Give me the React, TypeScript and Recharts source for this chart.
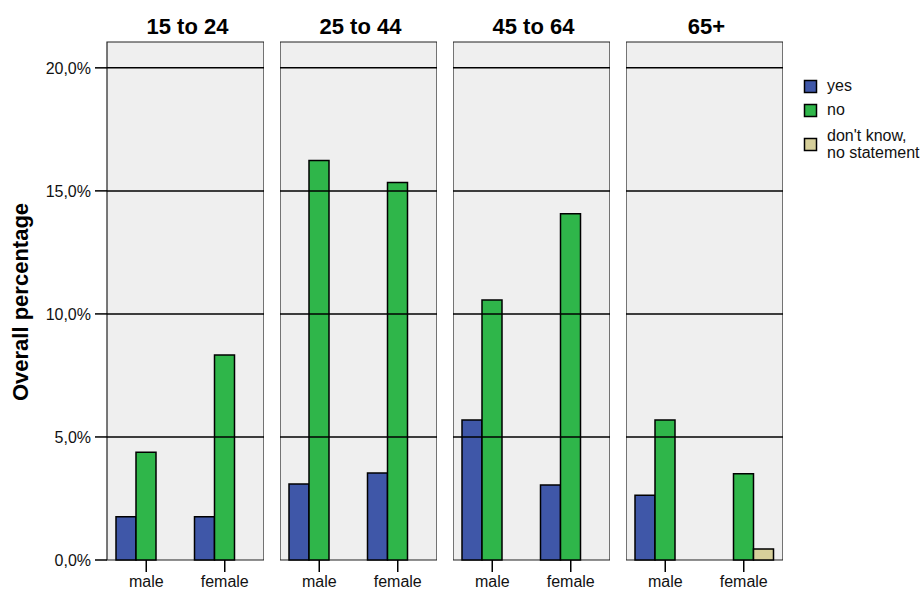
import React from 'react';
import {
  BarChart,
  Bar,
  XAxis,
  YAxis,
  CartesianGrid,
  ReferenceLine,
  ReferenceArea,
} from 'recharts';

const ageGroups = ['15 to 24', '25 to 44', '45 to 64', '65+'];
const genders = ['male', 'female'];
// Ordered: for each age group, male then female (overall percentage)
const yesPct = [1.76, 1.76, 3.09, 3.54, 5.69, 3.05, 2.63, 0];
const noPct = [4.38, 8.33, 16.23, 15.34, 10.57, 14.07, 5.69, 3.5];
const dkPct = [0, 0, 0, 0, 0, 0, 0, 0.45];
const yTicks = [0, 5, 10, 15, 20];
const seriesNames = ['yes', 'no', "don't know,\nno statement"];

const Y_MAX = 21.05;
const COLORS = { yes: '#3f57a8', no: '#2fb64a', dk: '#d6cf9a' };
const FONT = '"Liberation Sans", Arial, Helvetica, sans-serif';
const PANEL_X = [107, 280, 453, 626];
const PANEL_W = 157;

const nz = (v: number) => (v === 0 ? null : v);

function Panel({ idx }: { idx: number }) {
  const data = genders.map((g, j) => ({
    gender: g,
    yes: nz(yesPct[idx * 2 + j]),
    no: nz(noPct[idx * 2 + j]),
    dk: nz(dkPct[idx * 2 + j]),
  }));
  const first = idx === 0;
  const left = first ? 0 : PANEL_X[idx];
  const width = first ? PANEL_X[0] + PANEL_W : PANEL_W;
  return (
    <div style={{ position: 'absolute', left, top: 0 }}>
      <BarChart
        width={width}
        height={590}
        data={data}
        margin={{ top: 42, right: 0, bottom: 0, left: 0 }}
        barGap={0}
        barSize={20}
      >
        <CartesianGrid horizontal={false} vertical={false} fill="#efefef" fillOpacity={1} />
        <XAxis
          dataKey="gender"
          height={30}
          axisLine={false}
          tickLine={{ stroke: '#000', strokeWidth: 1.5 }}
          tickSize={12}
          tickMargin={4}
          interval={0}
          tick={{ fontSize: 16, fill: '#111', fontFamily: FONT }}
        />
        <YAxis
          type="number"
          domain={[0, Y_MAX]}
          ticks={yTicks}
          hide={!first}
          width={PANEL_X[0]}
          axisLine={false}
          tickLine={{ stroke: '#000', strokeWidth: 1.5 }}
          tickSize={12}
          tickMargin={4}
          tickFormatter={(v: number) => v.toFixed(1).replace('.', ',') + '%'}
          tick={{ fontSize: 16, fill: '#111', fontFamily: FONT }}
        />
        <Bar dataKey="yes" fill={COLORS.yes} stroke="#000" strokeWidth={1.5} isAnimationActive={false} />
        <Bar dataKey="no" fill={COLORS.no} stroke="#000" strokeWidth={1.5} isAnimationActive={false} />
        <Bar dataKey="dk" fill={COLORS.dk} stroke="#000" strokeWidth={1.5} isAnimationActive={false} />
        {yTicks.slice(1).map((t) => (
          <ReferenceLine key={t} y={t} stroke="#000" strokeWidth={1.5} />
        ))}
        <ReferenceArea y1={0} y2={Y_MAX} fill="none" fillOpacity={0} stroke="#222" strokeWidth={1.2} ifOverflow="visible" />
      </BarChart>
    </div>
  );
}

export default function App() {
  const legendColors = [COLORS.yes, COLORS.no, COLORS.dk];
  const legendY = [80, 104, 138];
  return (
    <div style={{ position: 'absolute', left: 0, top: 0, width: 923, height: 590, background: '#fff', fontFamily: FONT }}>
      {ageGroups.map((_, i) => (
        <Panel key={i} idx={i} />
      ))}
      <svg width={923} height={590} style={{ position: 'absolute', left: 0, top: 0, pointerEvents: 'none' }}>
        {ageGroups.map((a, i) => (
          <text
            key={a}
            x={PANEL_X[i] + PANEL_W / 2 + 2}
            y={34}
            textAnchor="middle"
            fontSize={22}
            fontWeight="bold"
            fontFamily={FONT}
            fill="#000"
          >
            {a}
          </text>
        ))}
        <text
          transform="translate(28,302) rotate(-90)"
          textAnchor="middle"
          fontSize={22}
          fontWeight="bold"
          fontFamily={FONT}
          fill="#000"
        >
          Overall percentage
        </text>
        {seriesNames.map((name, i) => {
          const lines = name.split('\n');
          const y0 = legendY[i];
          return (
            <g key={name}>
              <rect x={804.5} y={y0 + 0.5} width={12} height={12} fill={legendColors[i]} stroke="#000" strokeWidth={1.5} />
              {lines.length === 1 ? (
                <text x={827} y={y0 + 11} fontSize={16} fontFamily={FONT} fill="#111">
                  {name}
                </text>
              ) : (
                lines.map((l, k) => (
                  <text key={k} x={827} y={y0 + 3 + k * 17} fontSize={16} fontFamily={FONT} fill="#111">
                    {l}
                  </text>
                ))
              )}
            </g>
          );
        })}
      </svg>
    </div>
  );
}
